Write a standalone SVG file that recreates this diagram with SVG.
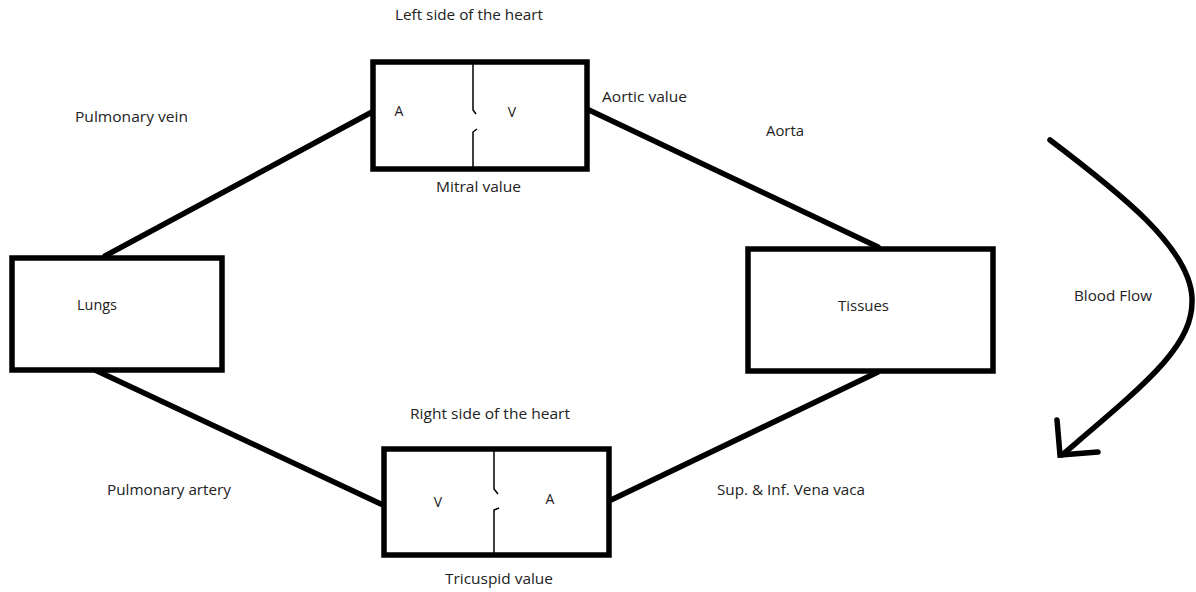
<svg xmlns="http://www.w3.org/2000/svg" width="1196" height="592" viewBox="0 0 1196 592">
<style>
.box{fill:#fff;stroke:#000;stroke-width:5.5}
.conn{fill:none;stroke:#000;stroke-width:5.5;stroke-linecap:round}
.valve{fill:none;stroke:#000;stroke-width:1.5}
text{font-family:"Open Sans","Liberation Sans",sans-serif;font-size:14px;fill:#222}
.c{text-anchor:middle}
</style>
<rect width="1196" height="592" fill="#fff"/>
<g id="connectors">
<path class="conn" d="M105,256 L372,112"/>
<path class="conn" d="M589,110 L878,247"/>
<path class="conn" d="M878,372 L611,500"/>
<path class="conn" d="M383,505 L95,370"/>
</g>
<g id="lungs">
<rect class="box" x="12" y="258" width="210" height="112"/>
<text x="77" y="310" textLength="40" lengthAdjust="spacingAndGlyphs">Lungs</text>
</g>
<g id="tissues">
<rect class="box" x="748" y="249" width="245" height="122"/>
<text x="838" y="311" textLength="51" lengthAdjust="spacingAndGlyphs">Tissues</text>
</g>
<g id="left-heart">
<rect class="box" x="373" y="62" width="214" height="107"/>
<path class="valve" d="M473,62 V110 L476,114 M473,169 V132 L477,129"/>
<text class="c" x="399" y="116">A</text>
<text class="c" x="512" y="117">V</text>
</g>
<g id="right-heart">
<rect class="box" x="384" y="449" width="225" height="106"/>
<path class="valve" d="M494,449 V489 L498,494 M494,555 V510 L499,508"/>
<text class="c" x="438" y="507">V</text>
<text class="c" x="550" y="504">A</text>
</g>
<g id="labels">
<text x="395" y="20" textLength="148" lengthAdjust="spacingAndGlyphs">Left side of the heart</text>
<text x="75" y="122" textLength="113" lengthAdjust="spacingAndGlyphs">Pulmonary vein</text>
<text x="602" y="102" textLength="85" lengthAdjust="spacingAndGlyphs">Aortic value</text>
<text x="766" y="136" textLength="38" lengthAdjust="spacingAndGlyphs">Aorta</text>
<text x="436" y="192" textLength="85" lengthAdjust="spacingAndGlyphs">Mitral value</text>
<text x="1074" y="301" textLength="78" lengthAdjust="spacingAndGlyphs">Blood Flow</text>
<text x="410" y="419" textLength="160" lengthAdjust="spacingAndGlyphs">Right side of the heart</text>
<text x="107" y="495" textLength="124" lengthAdjust="spacingAndGlyphs">Pulmonary artery</text>
<text x="717" y="495" textLength="148" lengthAdjust="spacingAndGlyphs">Sup. &amp; Inf. Vena vaca</text>
<text x="445" y="584" textLength="108" lengthAdjust="spacingAndGlyphs">Tricuspid value</text>
</g>
<g id="blood-flow-arrow">
<path class="conn" d="M1050,140 C1120,193 1190,248 1192,298 C1194,345 1150,380 1062,455"/>
<path class="conn" d="M1057,420 L1060,455 L1098,452"/>
</g>
</svg>
